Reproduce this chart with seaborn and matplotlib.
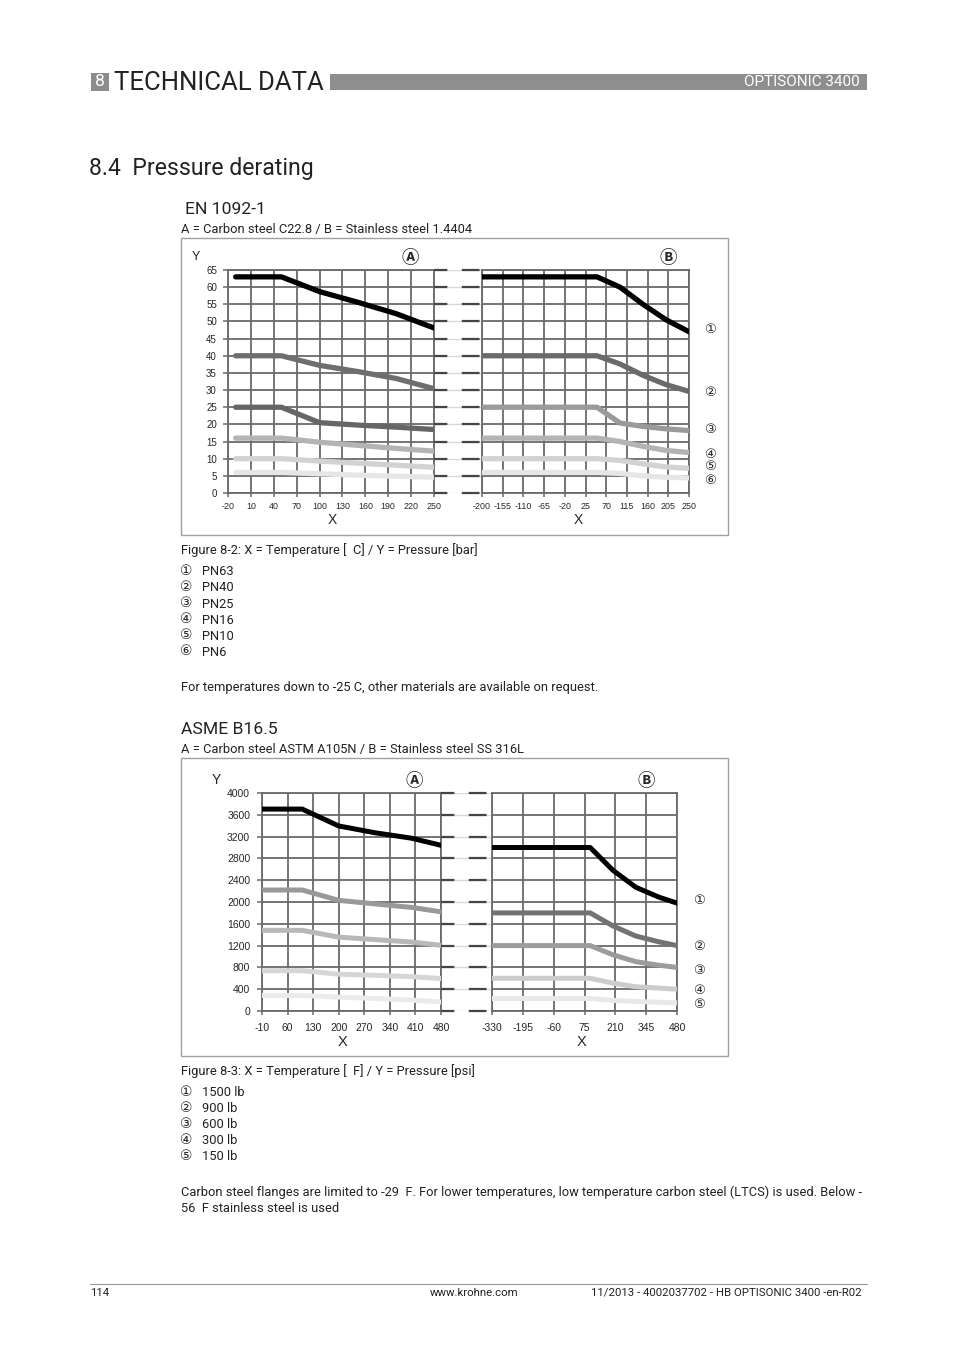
import numpy as np
import pandas as pd
import matplotlib
matplotlib.use('Agg')
import matplotlib.pyplot as plt
import seaborn as sns
from matplotlib.patches import Rectangle
from matplotlib.lines import Line2D

sns.set_style('white')
plt.rcParams['font.family'] = ['Roboto', 'DejaVu Sans', 'Noto Sans CJK JP']

# ---------------- data ----------------
en_classes = ['PN63', 'PN40', 'PN25', 'PN16', 'PN10', 'PN6']
en_temp_a = [-10, 50, 100, 150, 200, 250]
en_pn63_a = [63, 63, 58.7, 55.6, 52.3, 48.1]
en_pn40_a = [40, 40, 37.2, 35.4, 33.4, 30.4]
en_pn25_a = [25, 25, 20.5, 19.8, 19.2, 18.5]
en_pn16_a = [16, 16, 14.8, 13.9, 13.0, 12.2]
en_pn10_a = [10, 10, 9.3, 8.7, 8.1, 7.5]
en_pn6_a = [6, 6, 5.6, 5.2, 4.9, 4.6]

en_temp_b = [-200, 50, 100, 150, 200, 250]
en_pn63_b = [63, 63, 60.0, 55.0, 50.5, 47.0]
en_pn40_b = [40, 40, 37.6, 34.3, 31.6, 29.6]
en_pn25_b = [25, 25, 20.4, 19.4, 18.7, 18.2]
en_pn16_b = [16, 16, 15.0, 13.6, 12.4, 11.8]
en_pn10_b = [10, 10, 9.5, 8.5, 7.6, 7.2]
en_pn6_b = [6, 6, 5.7, 5.0, 4.6, 4.4]

en_xticks_a = [-20, 10, 40, 70, 100, 130, 160, 190, 220, 250]
en_xticks_b = [-200, -155, -110, -65, -20, 25, 70, 115, 160, 205, 250]
en_yticks = [0, 5, 10, 15, 20, 25, 30, 35, 40, 45, 50, 55, 60, 65]

asme_classes = ['1500 lb', '900 lb', '600 lb', '300 lb', '150 lb']
asme_temp_a = [-20, 100, 200, 300, 400, 480]
asme_1500_a = [3705, 3705, 3395, 3270, 3170, 3040]
asme_900_a = [2220, 2220, 2030, 1965, 1900, 1820]
asme_600_a = [1480, 1480, 1355, 1310, 1265, 1205]
asme_300_a = [740, 740, 675, 655, 630, 595]
asme_150_a = [285, 285, 255, 230, 200, 165]

asme_temp_b = [-330, 100, 200, 300, 400, 480]
asme_1500_b = [3000, 3000, 2580, 2270, 2090, 1980]
asme_900_b = [1800, 1800, 1560, 1375, 1270, 1200]
asme_600_b = [1200, 1200, 1030, 905, 840, 800]
asme_300_b = [600, 600, 510, 445, 420, 400]
asme_150_b = [230, 230, 195, 175, 160, 150]

asme_xticks_a = [-10, 60, 130, 200, 270, 340, 410, 480]
asme_xticks_b = [-330, -195, -60, 75, 210, 345, 480]
asme_yticks = [0, 400, 800, 1200, 1600, 2000, 2400, 2800, 3200, 3600, 4000]

circled = ['\u2460', '\u2461', '\u2462', '\u2463', '\u2464', '\u2465']

# ---------------- layout helpers ----------------
W, H = 954, 1351
fig = plt.figure(figsize=(W / 100, H / 100), dpi=100)

BODY = 9.3
INK = '#222222'
DY = -0.5


def rect(x0, y0, x1, y1):
    return [x0 / W, 1 - y1 / H, (x1 - x0) / W, (y1 - y0) / H]


def txt(x, y, s, **kw):
    kw.setdefault('va', 'center_baseline')
    return fig.text(x / W, 1 - y / H, s, **kw)


def frame(x0, y0, x1, y1, color='#a0a0a0', lw=1.0):
    fig.patches.append(Rectangle((x0 / W, 1 - y1 / H), (x1 - x0) / W, (y1 - y0) / H,
                                 transform=fig.transFigure, fill=False,
                                 edgecolor=color, linewidth=lw))


def hline(x0, x1, y, color, lw):
    fig.lines.append(Line2D([x0 / W, x1 / W], [1 - y / H, 1 - y / H],
                            transform=fig.transFigure, color=color, linewidth=lw))


GRID = '#6a6a6a'
SYM = ['DejaVu Sans', 'Noto Sans CJK JP']


def long_df(temps, classes, series):
    rows = []
    for c, vals in zip(classes, series):
        for t, v in zip(temps, vals):
            rows.append({'temp': t, 'pressure': v, 'cls': c})
    return pd.DataFrame(rows)


def panel(rc, temps, classes, series, palette, xticks, yticks, xlim, ylim,
          xfs, yfs, show_y, lw, xpad, ypad):
    ax = fig.add_axes(rect(*rc))
    df = long_df(temps, classes, series)
    sns.lineplot(data=df, x='temp', y='pressure', hue='cls', hue_order=classes,
                 palette=palette, sort=False, estimator=None, legend=False,
                 linewidth=lw, solid_capstyle='round', ax=ax)
    for ln in ax.lines:
        ln.set_zorder(3)
    ax.set_xlim(*xlim)
    ax.set_ylim(*ylim)
    ax.set_xticks(xticks)
    ax.set_xticklabels([str(v) for v in xticks], fontsize=xfs,
                       family='Liberation Sans')
    ax.set_yticks(yticks)
    if show_y:
        ax.set_yticklabels([str(v) for v in yticks], fontsize=yfs,
                           family='Liberation Sans')
        ax.tick_params(axis='y', length=3.5, width=1.1, color=GRID, pad=ypad, left=True)
    else:
        ax.set_yticklabels([])
        ax.tick_params(axis='y', length=0)
    ax.tick_params(axis='x', length=3, width=1.1, color=GRID, pad=xpad, bottom=True)
    ax.grid(True, color=GRID, linewidth=1.3)
    ax.set_axisbelow(True)
    for s in ax.spines.values():
        s.set_visible(True)
        s.set_color(GRID)
        s.set_linewidth(1.3)
    ax.set_xlabel('')
    ax.set_ylabel('')
    ax.patch.set_alpha(0)
    return ax


def breaker(x0, y0, x1, y1, yticks, ylim):
    ax = fig.add_axes(rect(x0, y0, x1, y1))
    ax.set_xlim(0, 1)
    ax.set_ylim(*ylim)
    ax.hlines(yticks, 0, 1, colors='#d8d8d8', linewidth=1.0, zorder=1)
    ax.hlines(yticks, 0, 1, colors='#454545', linewidth=1.6,
              linestyles=(2, (8, 6.5)), zorder=2, clip_on=False)
    ax.axis('off')
    return ax


# ---------------- header ----------------
fig.patches.append(Rectangle((91 / W, 1 - 91 / H), 18 / W, 18 / H, transform=fig.transFigure,
                             facecolor='#8c8c8c', edgecolor='none'))
txt(100, 82, '8', color='white', fontsize=12.5, ha='center', va='center')
txt(114, 82.5, 'TECHNICAL DATA', fontsize=18.5, color=INK, ha='left', va='center')
fig.patches.append(Rectangle((330 / W, 1 - 90 / H), 537 / W, 16 / H, transform=fig.transFigure,
                             facecolor='#8e8e8e', edgecolor='none'))
txt(860, 82.5, 'OPTISONIC 3400', color='white', fontsize=11, ha='right', va='center')

txt(89, 166 + DY, '8.4  Pressure derating', fontsize=16.6, color=INK, ha='left')

# ---------------- EN 1092-1 ----------------
txt(185, 208 + DY, 'EN 1092-1', fontsize=12.6, color=INK, ha='left')
txt(181, 228 + DY, 'A = Carbon steel C22.8 / B = Stainless steel 1.4404', fontsize=BODY,
    color=INK, ha='left')
frame(181, 238, 728, 535)

en_pal_a = dict(zip(en_classes, ['#000000', '#6e6e6e', '#666666', '#b4b4b4', '#d2d2d2', '#e6e6e6']))
en_pal_b = dict(zip(en_classes, ['#000000', '#6a6a6a', '#9a9a9a', '#b4b4b4', '#d2d2d2', '#e6e6e6']))

panel((228, 270, 434, 493), en_temp_a, en_classes,
      [en_pn63_a, en_pn40_a, en_pn25_a, en_pn16_a, en_pn10_a, en_pn6_a],
      en_pal_a, en_xticks_a, en_yticks, (-20, 250), (0, 65), 6.4, 7.0, True, 3.8, 3.5, 4.5)
breaker(434, 270, 482, 493, en_yticks, (0, 65))
panel((482, 270, 689, 493), en_temp_b, en_classes,
      [en_pn63_b, en_pn40_b, en_pn25_b, en_pn16_b, en_pn10_b, en_pn6_b],
      en_pal_b, en_xticks_b, en_yticks, (-200, 250), (0, 65), 6.4, 7.0, False, 3.8, 3.5, 4.5)

txt(196, 257, 'Y', fontsize=9, family='Liberation Sans', ha='center', va='center')
txt(332, 520, 'X', fontsize=10, family='Liberation Sans', ha='center', va='center')
txt(578, 520, 'X', fontsize=10, family='Liberation Sans', ha='center', va='center')
txt(410, 258, '\u24b6', fontsize=12.5, family=SYM, fontweight='bold', ha='center', va='center')
txt(668, 258, '\u24b7', fontsize=12.5, family=SYM, fontweight='bold', ha='center', va='center')
for yy, c in zip([330, 393, 430, 454, 467, 481], circled):
    txt(710, yy, c, fontsize=9.5, family=SYM, ha='center', va='center')

txt(181, 549 + DY, 'Figure 8-2: X = Temperature [  C] / Y = Pressure [bar]', fontsize=BODY,
    color=INK, ha='left')
for k, (c, name) in enumerate(zip(circled, en_classes)):
    txt(186, 571 + 16 * k, c, fontsize=10, family=SYM, ha='center', va='center')
    txt(202, 571 + 16 * k + DY, name, fontsize=BODY, color=INK, ha='left')
txt(181, 687 + DY, 'For temperatures down to -25 C, other materials are available on request.',
    fontsize=BODY, color=INK, ha='left')

# ---------------- ASME B16.5 ----------------
txt(181, 728 + DY, 'ASME B16.5', fontsize=12.6, color=INK, ha='left')
txt(181, 748 + DY, 'A = Carbon steel ASTM A105N / B = Stainless steel SS 316L', fontsize=BODY,
    color=INK, ha='left')
frame(181, 758, 728, 1056)

as_pal_a = dict(zip(asme_classes, ['#000000', '#999999', '#b8b8b8', '#d6d6d6', '#ebebeb']))
as_pal_b = dict(zip(asme_classes, ['#000000', '#727272', '#9c9c9c', '#cccccc', '#e8e8e8']))

panel((262, 793, 441, 1011), asme_temp_a, asme_classes,
      [asme_1500_a, asme_900_a, asme_600_a, asme_300_a, asme_150_a],
      as_pal_a, asme_xticks_a, asme_yticks, (-10, 480), (0, 4000), 7.5, 7.5, True, 3.6, 5.5, 5.0)
breaker(441, 793, 492, 1011, asme_yticks, (0, 4000))
panel((492, 793, 677, 1011), asme_temp_b, asme_classes,
      [asme_1500_b, asme_900_b, asme_600_b, asme_300_b, asme_150_b],
      as_pal_b, asme_xticks_b, asme_yticks, (-330, 480), (0, 4000), 7.5, 7.5, False, 3.6, 5.5, 5.0)

txt(216, 780, 'Y', fontsize=10, family='Liberation Sans', ha='center', va='center')
txt(343, 1042, 'X', fontsize=10.5, family='Liberation Sans', ha='center', va='center')
txt(582, 1042, 'X', fontsize=10.5, family='Liberation Sans', ha='center', va='center')
txt(414, 781, '\u24b6', fontsize=12.5, family=SYM, fontweight='bold', ha='center', va='center')
txt(646, 781, '\u24b7', fontsize=12.5, family=SYM, fontweight='bold', ha='center', va='center')
for yy, c in zip([901, 946, 971, 990, 1005], circled):
    txt(699, yy, c, fontsize=9.5, family=SYM, ha='center', va='center')

txt(181, 1070 + DY, 'Figure 8-3: X = Temperature [  F] / Y = Pressure [psi]', fontsize=BODY,
    color=INK, ha='left')
for k, (c, name) in enumerate(zip(circled, asme_classes)):
    txt(186, 1092 + 16 * k, c, fontsize=10, family=SYM, ha='center', va='center')
    txt(202, 1092 + 16 * k + DY, name, fontsize=BODY, color=INK, ha='left')
txt(181, 1191 + DY, 'Carbon steel flanges are limited to -29  F. For lower temperatures, low temperature '
    'carbon steel (LTCS) is used. Below -', fontsize=BODY, color=INK, ha='left')
txt(181, 1207 + DY, '56  F stainless steel is used', fontsize=BODY, color=INK, ha='left')

# ---------------- footer ----------------
hline(90, 867, 1284, '#9a9a9a', 0.8)
txt(90, 1292 + DY, '114', fontsize=8.2, color=INK, ha='left')
txt(474, 1292 + DY, 'www.krohne.com', fontsize=8.2, color=INK, ha='center')
txt(862, 1292 + DY, '11/2013 - 4002037702 - HB OPTISONIC 3400 -en-R02', fontsize=8.2,
    color=INK, ha='right')

fig.savefig('out.png', dpi=100, facecolor='white')
